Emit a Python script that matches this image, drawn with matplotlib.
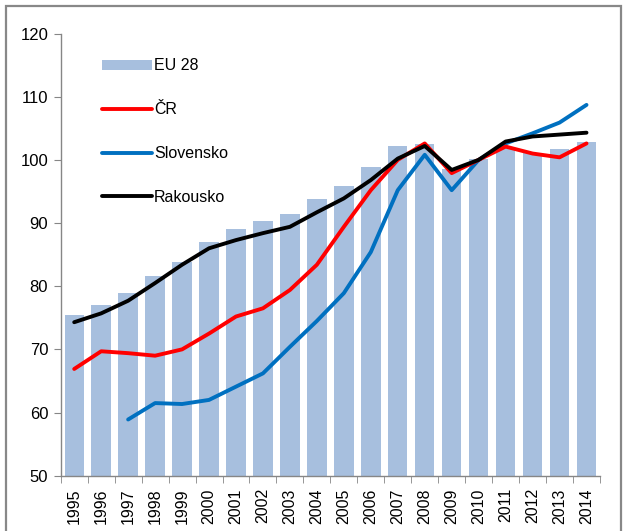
import numpy as np
import matplotlib
matplotlib.use("Agg")
import matplotlib.pyplot as plt
from matplotlib.patches import Rectangle

plt.rcParams["font.family"] = ["Liberation Sans", "DejaVu Sans"]

# data
years = [str(y) for y in range(1995, 2015)]
eu28 = [75.5, 77.0, 79.0, 81.6, 83.8, 87.0, 89.0, 90.3, 91.5, 93.8,
        95.8, 98.9, 102.2, 102.5, 98.6, 100.1, 101.8, 101.1, 101.7, 102.9]
cr = [66.9, 69.7, 69.4, 69.0, 70.0, 72.5, 75.2, 76.5, 79.4, 83.4,
      89.4, 95.2, 100.0, 102.6, 97.9, 100.0, 102.1, 101.0, 100.4, 102.6]
sk = [np.nan, np.nan, 58.9, 61.5, 61.35, 62.0, 64.1, 66.2, 70.4, 74.5,
      78.9, 85.4, 95.2, 100.8, 95.2, 100.0, 102.6, 104.2, 105.9, 108.7]
at = [74.3, 75.7, 77.7, 80.5, 83.4, 86.0, 87.3, 88.4, 89.4, 91.7,
      93.9, 96.8, 100.2, 102.2, 98.4, 100.0, 102.9, 103.7, 104.0, 104.3]

fig = plt.figure(figsize=(6.28, 5.31), dpi=100)
ax = fig.add_axes([0.0967, 0.1041, 0.8587, 0.8328])

x = np.arange(len(years))
bars = ax.bar(x, eu28, width=0.72, color="#A7BFDE", label="EU 28", zorder=1)
lw = 2.8
l_cr, = ax.plot(x, cr, color="#FF0000", lw=lw, solid_joinstyle="round",
                solid_capstyle="round", label="ČR", zorder=3)
l_sk, = ax.plot(x, sk, color="#0070C0", lw=lw, solid_joinstyle="round",
                solid_capstyle="round", label="Slovensko", zorder=2)
l_at, = ax.plot(x, at, color="black", lw=lw, solid_joinstyle="round",
                solid_capstyle="round", label="Rakousko", zorder=4)

ax.set_xlim(-0.5, len(years) - 0.5)
ax.set_ylim(50, 120)
ax.set_yticks(range(50, 121, 10))
ax.set_xticks(x)
ax.set_xticklabels(years, rotation=90, fontsize=11.5)
ax.set_xticks(np.arange(-0.5, len(years), 1), minor=True)
ax.tick_params(axis="x", which="major", length=0, pad=9)
ax.tick_params(axis="x", which="minor", length=5, color="#868686")
ax.tick_params(axis="y", length=5, color="#868686", labelsize=12, pad=4)

for s in ["top", "right"]:
    ax.spines[s].set_visible(False)
for s in ["left", "bottom"]:
    ax.spines[s].set_color("#868686")
    ax.spines[s].set_linewidth(1.0)

ax.legend([bars, l_cr, l_sk, l_at], ["EU 28", "ČR", "Slovensko", "Rakousko"],
          loc="upper left", bbox_to_anchor=(0.05, 0.976), frameon=False,
          fontsize=11.5, handlelength=3.1, handleheight=0.6,
          handletextpad=0.15, labelspacing=1.8)

# outer frame of the chart object
fig.add_artist(Rectangle((6 / 628, -0.05), 615 / 628, 1.05 - 6 / 531,
                         transform=fig.transFigure, fill=False,
                         edgecolor="#888888", lw=1.6))

fig.savefig("out.png", dpi=100)
